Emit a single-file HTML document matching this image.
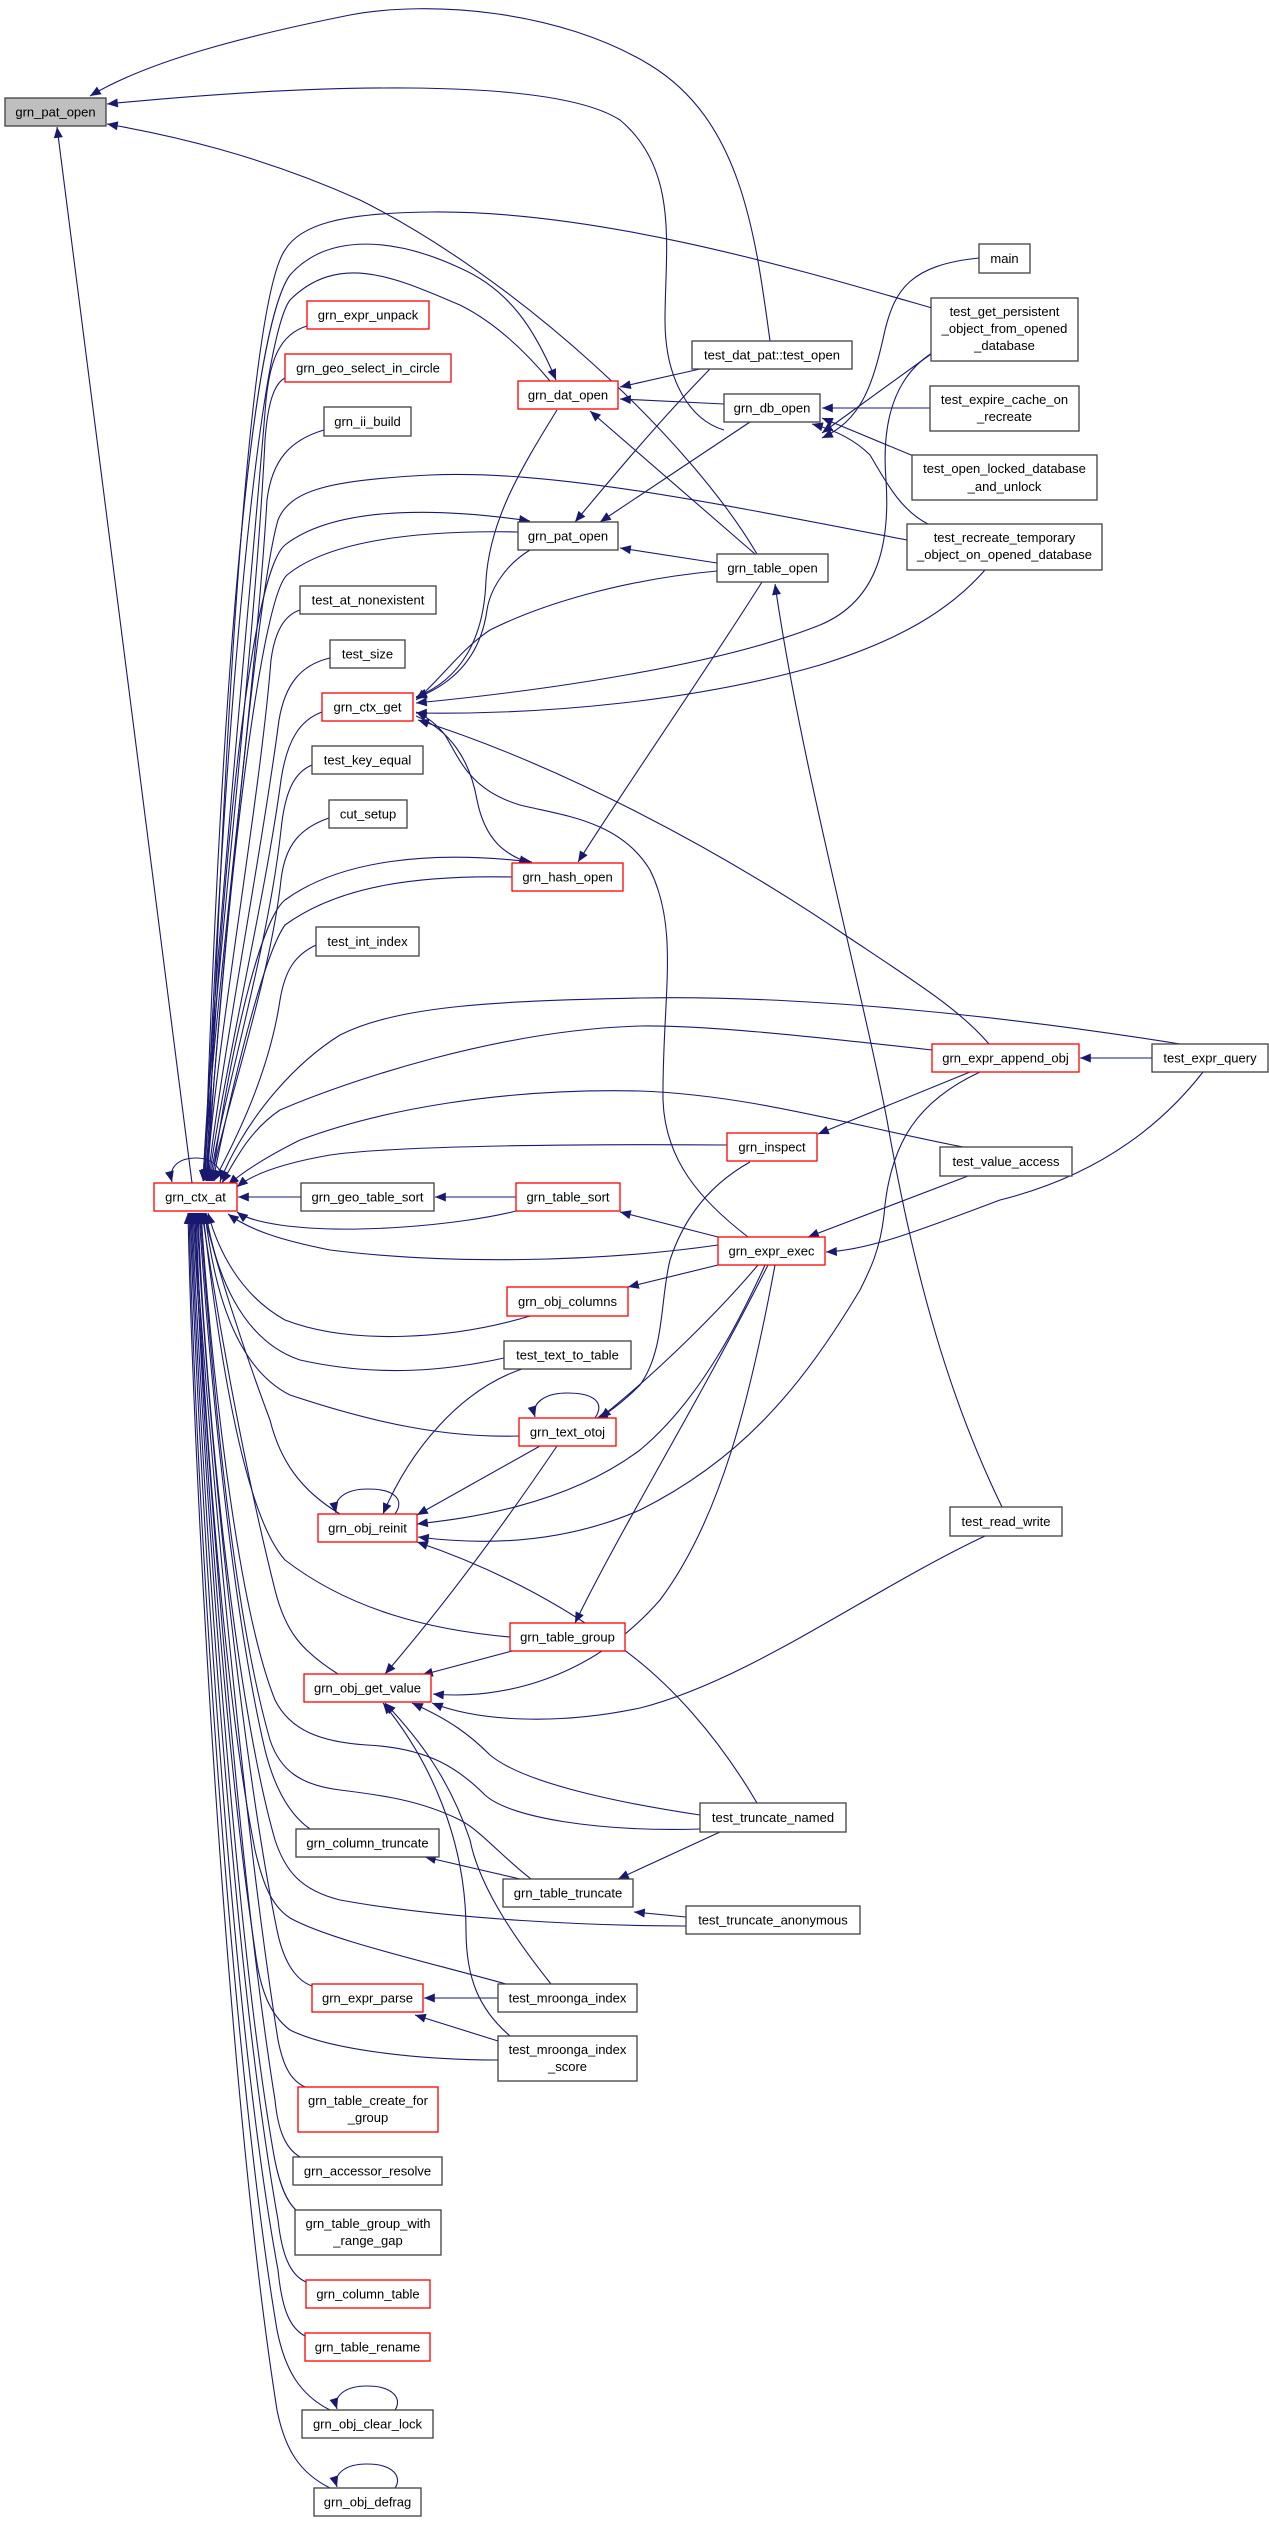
<!DOCTYPE html>
<html><head><meta charset="utf-8"><style>
html,body{margin:0;padding:0;background:#fff;}
svg{display:block;}
text{font-family:"Liberation Sans",Arial,sans-serif;font-size:13px;fill:#000;text-anchor:middle;}
.n{fill:#fff;stroke:#404040;stroke-width:1.3;}
.r{fill:#fff;stroke:#ff0000;stroke-width:1.3;}
.e{fill:none;stroke:#191970;stroke-width:1.1;}
</style></head><body>
<svg width="1269" height="2522" viewBox="0 0 1269 2522" xmlns="http://www.w3.org/2000/svg">
<defs><marker id="a" viewBox="0 0 12 10" refX="12" refY="5" markerWidth="12" markerHeight="9" markerUnits="userSpaceOnUse" orient="auto"><path d="M0,0L12,5L0,10z" fill="#191970"/></marker></defs>
<g class="e" marker-end="url(#a)">
<!-- into root -->
<path d="M770,341 C755,230 740,120 650,65 C560,10 430,0 350,15 C250,35 150,60 90,96"/>
<path d="M724,430 C690,420 665,380 665,320 C665,250 680,170 620,120 C550,75 300,85 107,104"/>
<path d="M757,554 C690,440 520,280 360,200 C260,155 170,135 107,124"/>
<path d="M192,1183 L57,127"/>
<!-- db_open -->
<path d="M979,258 C910,265 895,290 885,330 C872,390 860,420 822,438"/>
<path d="M931,354 L822,433"/>
<path d="M930,408 L822,408"/>
<path d="M928,462 L822,418"/>
<path d="M928,524 C900,510 885,480 870,455 C855,440 835,430 812,424"/>
<!-- dat_open -->
<path d="M700,369 L620,387"/>
<path d="M724,404 L620,399"/>
<path d="M755,554 L590,411"/>
<path d="M205,1180 C220,700 250,330 290,275 C330,230 400,240 460,268 C510,290 535,330 556,380"/>
<path d="M550,381 C520,345 490,320 460,305 C400,280 340,250 290,300 C260,340 225,700 205,1180"/>
<!-- pat_open black -->
<path d="M710,369 C660,420 610,480 575,522"/>
<path d="M750,422 L600,522"/>
<path d="M717,563 L620,548"/>
<path d="M206,1181 C225,800 255,570 285,545 C330,510 420,505 530,521"/>
<path d="M518,532 C420,530 330,540 287,575 C260,600 225,900 207,1181"/>
<!-- into ctx_at top -->
<path d="M932,308 C800,270 600,210 430,212 C340,213 300,225 285,250 C250,300 225,700 208,1180"/>
<path d="M307,326 C280,334 270,360 266,400 C250,600 215,950 203,1181"/>
<path d="M285,378 C275,383 268,400 265,440 C255,650 212,1000 203,1181"/>
<path d="M324,430 C290,440 272,460 267,500 C255,700 214,1000 204,1181"/>
<path d="M907,540 C700,500 550,470 430,475 C330,480 290,490 278,520 C255,600 220,1000 206,1181"/>
<path d="M300,610 C285,615 275,630 271,660 C260,800 215,1050 207,1181"/>
<path d="M330,658 C300,665 285,685 279,720 C262,850 218,1080 208,1181"/>
<path d="M322,712 C300,720 287,740 281,780 C265,900 220,1090 209,1181"/>
<path d="M312,765 C295,772 285,790 281,830 C268,950 222,1100 210,1181"/>
<path d="M329,818 C300,828 285,845 281,880 C270,980 225,1110 211,1181"/>
<path d="M212,1181 C230,1050 260,920 285,900 C340,860 430,850 532,862"/>
<path d="M512,877 C420,875 340,885 285,925 C260,960 225,1120 213,1181"/>
<path d="M316,945 C295,955 285,970 280,1000 C268,1080 230,1150 214,1181"/>
<path d="M1180,1044 C1000,1015 800,995 640,998 C500,1001 400,1005 340,1035 C300,1060 250,1110 220,1181"/>
<path d="M932,1050 C800,1035 700,1025 640,1026 C500,1030 350,1080 280,1110 C250,1130 235,1160 222,1183"/>
<path d="M963,1147 C850,1125 750,1095 640,1091 C500,1088 380,1110 300,1140 C270,1155 245,1170 228,1185"/>
<path d="M727,1145 C600,1144 400,1145 330,1155 C290,1162 255,1172 237,1187"/>
<path d="M220,1183 C224,1168 212,1158 196,1158 C180,1158 168,1166 172,1182"/>
<path d="M301,1197 L238,1197"/>
<path d="M516,1197 L435,1197"/>
<path d="M516,1211 C460,1225 350,1235 280,1225 C260,1222 245,1218 237,1212"/>
<path d="M718,1245 C600,1262 450,1265 330,1250 C280,1240 250,1230 228,1214"/>
<!-- into ctx_at bottom -->
<path d="M530,1316 C450,1340 350,1345 285,1320 C240,1295 218,1250 208,1213"/>
<path d="M504,1358 C450,1370 380,1378 300,1360 C240,1340 215,1270 206,1213"/>
<path d="M519,1436 C450,1438 380,1425 290,1395 C240,1370 215,1300 205,1213"/>
<path d="M340,1514 C300,1490 280,1460 270,1420 C240,1340 215,1260 204,1213"/>
<path d="M510,1637 C430,1630 350,1610 285,1560 C240,1510 215,1320 203,1213"/>
<path d="M338,1674 C300,1650 285,1630 275,1590 C240,1450 215,1300 202,1213"/>
<path d="M700,1829 C600,1832 510,1818 485,1795 C460,1770 430,1748 367,1745 C320,1742 290,1730 275,1700 C235,1600 210,1350 201,1213"/>
<path d="M531,1879 C500,1855 480,1830 460,1820 C420,1800 380,1795 340,1790 C300,1785 280,1770 270,1740 C230,1600 210,1350 200,1213"/>
<path d="M310,1829 C290,1815 275,1790 265,1750 C230,1600 208,1350 199,1213"/>
<path d="M686,1926 C600,1926 450,1920 340,1900 C300,1890 285,1870 275,1840 C235,1700 205,1400 198,1213"/>
<path d="M312,1986 C295,1980 283,1960 277,1930 C240,1750 205,1400 197,1213"/>
<path d="M506,1984 C420,1960 330,1940 290,1918 C270,1905 262,1880 255,1850 C225,1700 202,1400 196,1213"/>
<path d="M498,2060 C420,2060 330,2050 290,2030 C270,2015 260,1990 255,1950 C225,1750 200,1400 195,1213"/>
<path d="M305,2087 C290,2080 283,2065 278,2040 C240,1800 205,1400 194,1213"/>
<path d="M300,2157 C285,2148 278,2130 275,2100 C235,1850 203,1400 193,1213"/>
<path d="M296,2210 C285,2200 278,2180 273,2150 C230,1900 200,1400 192,1213"/>
<path d="M306,2282 C290,2275 282,2255 278,2220 C230,1950 200,1450 191,1213"/>
<path d="M305,2336 C290,2328 282,2310 278,2270 C228,2000 198,1450 190,1213"/>
<path d="M330,2410 C300,2395 285,2370 277,2330 C230,2050 196,1500 189,1213"/>
<path d="M330,2488 C300,2473 285,2450 277,2410 C228,2100 194,1500 188,1213"/>
<path d="M395,2410 C402,2400 395,2386 367,2386 C345,2386 333,2396 337,2409"/>
<path d="M395,2488 C402,2478 395,2464 367,2464 C345,2464 333,2474 337,2487"/>
<!-- ctx_get -->
<path d="M557,410 C520,470 490,520 486,580 C484,640 460,680 416,697"/>
<path d="M530,550 C505,565 490,590 487,610 C480,660 450,685 416,698"/>
<path d="M717,571 C620,580 540,605 490,630 C460,650 440,680 416,700"/>
<path d="M932,353 C890,380 882,430 886,480 C890,540 880,600 820,625 C720,665 550,690 416,703"/>
<path d="M985,570 C950,610 900,640 820,665 C700,700 550,715 416,713"/>
<path d="M989,1044 C960,1010 920,985 845,935 C720,850 560,765 418,720"/>
<path d="M748,1237 C700,1200 665,1160 663,1100 C662,1000 680,930 650,870 C620,820 560,815 520,805 C470,790 460,760 445,735 C435,722 425,716 416,712"/>
<path d="M416,716 C450,730 470,760 477,800 C485,840 505,855 530,863"/>
<path d="M762,582 C700,680 630,780 578,862"/>
<path d="M1002,1507 C950,1400 915,1280 887,1120 C860,980 800,760 775,584"/>
<!-- mid -->
<path d="M1152,1058 L1080,1058"/>
<path d="M970,1072 L818,1134"/>
<path d="M968,1176 L808,1237"/>
<path d="M1203,1072 C1150,1140 1080,1180 1000,1200 C920,1230 870,1250 826,1252"/>
<path d="M718,1237 L620,1212"/>
<path d="M718,1265 L628,1287"/>
<path d="M750,1162 C700,1190 680,1230 670,1260 C660,1300 665,1350 640,1385 C620,1405 605,1415 597,1418"/>
<path d="M758,1265 C720,1310 660,1370 600,1418"/>
<path d="M765,1265 C740,1320 700,1400 640,1450 C560,1510 450,1520 417,1524"/>
<path d="M980,1072 C920,1100 890,1140 884,1215 C880,1250 870,1270 860,1290 C800,1390 740,1460 640,1510 C560,1545 480,1545 418,1537"/>
<path d="M540,1446 L417,1515"/>
<path d="M522,1369 C460,1390 410,1450 383,1514"/>
<path d="M395,1514 C405,1500 395,1489 368,1489 C345,1489 333,1499 336,1513"/>
<path d="M595,1418 C605,1403 595,1393 567,1393 C545,1393 531,1403 535,1417"/>
<path d="M757,1803 C720,1740 670,1680 610,1640 C540,1590 470,1560 417,1542"/>
<path d="M768,1265 C700,1400 620,1530 575,1623"/>
<path d="M557,1446 C500,1530 440,1610 385,1674"/>
<path d="M512,1651 L422,1675"/>
<path d="M775,1265 C750,1400 720,1520 660,1600 C590,1680 500,1700 433,1694"/>
<path d="M985,1536 C870,1590 750,1680 640,1708 C560,1725 480,1722 432,1703"/>
<path d="M700,1815 C600,1800 520,1780 490,1755 C470,1735 450,1720 412,1703"/>
<path d="M551,1984 C520,1945 480,1890 470,1840 C450,1780 420,1740 385,1703"/>
<path d="M510,2036 C480,2010 466,1980 466,1930 C466,1840 430,1760 383,1703"/>
<path d="M520,1879 L425,1857"/>
<path d="M686,1917 L634,1912"/>
<path d="M720,1832 L618,1879"/>
<path d="M498,1998 L424,1998"/>
<path d="M498,2041 L415,2015"/>
</g>
<!-- nodes -->
<rect x="5" y="98" width="101" height="28" fill="#bfbfbf" stroke="#404040" stroke-width="1.3"/><text x="55.5" y="116.5">grn_pat_open</text>
<rect class="n" x="979" y="244" width="51" height="29"/><text x="1004.5" y="263">main</text>
<rect class="n" x="931" y="298" width="147" height="63"/><text x="1004.5" y="316">test_get_persistent</text><text x="1004.5" y="333">_object_from_opened</text><text x="1004.5" y="350">_database</text>
<rect class="n" x="692" y="341" width="160" height="28"/><text x="772" y="359.5">test_dat_pat::test_open</text>
<rect class="n" x="724" y="394" width="96" height="28"/><text x="772" y="412.5">grn_db_open</text>
<rect class="n" x="930" y="386" width="149" height="45"/><text x="1004.5" y="404">test_expire_cache_on</text><text x="1004.5" y="421">_recreate</text>
<rect class="n" x="912" y="455" width="185" height="45"/><text x="1004.5" y="473">test_open_locked_database</text><text x="1004.5" y="491">_and_unlock</text>
<rect class="n" x="907" y="524" width="195" height="46"/><text x="1004.5" y="542">test_recreate_temporary</text><text x="1004.5" y="559">_object_on_opened_database</text>
<rect class="n" x="717" y="554" width="111" height="28"/><text x="772.5" y="572.5">grn_table_open</text>
<rect class="r" x="307" y="301" width="122" height="28"/><text x="368" y="319.5">grn_expr_unpack</text>
<rect class="r" x="285" y="354" width="166" height="28"/><text x="368" y="372.5">grn_geo_select_in_circle</text>
<rect class="n" x="324" y="407" width="87" height="29"/><text x="367.5" y="426">grn_ii_build</text>
<rect class="r" x="518" y="381" width="100" height="28"/><text x="568" y="399.5">grn_dat_open</text>
<rect class="n" x="518" y="522" width="100" height="28"/><text x="568" y="540.5">grn_pat_open</text>
<rect class="n" x="300" y="586" width="136" height="28"/><text x="368" y="604.5">test_at_nonexistent</text>
<rect class="n" x="330" y="640" width="75" height="28"/><text x="367.5" y="658.5">test_size</text>
<rect class="r" x="322" y="693" width="91" height="28"/><text x="367.5" y="711.5">grn_ctx_get</text>
<rect class="n" x="312" y="746" width="111" height="28"/><text x="367.5" y="764.5">test_key_equal</text>
<rect class="n" x="329" y="800" width="78" height="28"/><text x="368" y="818.5">cut_setup</text>
<rect class="r" x="512" y="863" width="111" height="28"/><text x="567.5" y="881.5">grn_hash_open</text>
<rect class="n" x="316" y="927" width="103" height="29"/><text x="367.5" y="946">test_int_index</text>
<rect class="r" x="154" y="1183" width="83" height="28"/><text x="195.5" y="1201.5">grn_ctx_at</text>
<rect class="n" x="301" y="1183" width="133" height="28"/><text x="367.5" y="1201.5">grn_geo_table_sort</text>
<rect class="r" x="516" y="1183" width="104" height="28"/><text x="568" y="1201.5">grn_table_sort</text>
<rect class="r" x="932" y="1044" width="147" height="28"/><text x="1005.5" y="1062.5">grn_expr_append_obj</text>
<rect class="n" x="1152" y="1044" width="116" height="28"/><text x="1210" y="1062.5">test_expr_query</text>
<rect class="r" x="727" y="1133" width="90" height="28"/><text x="772" y="1151.5">grn_inspect</text>
<rect class="n" x="940" y="1147" width="132" height="29"/><text x="1006" y="1166">test_value_access</text>
<rect class="r" x="718" y="1237" width="107" height="28"/><text x="771.5" y="1255.5">grn_expr_exec</text>
<rect class="r" x="507" y="1287" width="121" height="29"/><text x="567.5" y="1306">grn_obj_columns</text>
<rect class="n" x="504" y="1341" width="127" height="28"/><text x="567.5" y="1359.5">test_text_to_table</text>
<rect class="r" x="519" y="1418" width="97" height="28"/><text x="567.5" y="1436.5">grn_text_otoj</text>
<rect class="r" x="318" y="1514" width="99" height="28"/><text x="367.5" y="1532.5">grn_obj_reinit</text>
<rect class="n" x="950" y="1507" width="112" height="29"/><text x="1006" y="1526">test_read_write</text>
<rect class="r" x="510" y="1623" width="115" height="28"/><text x="567.5" y="1641.5">grn_table_group</text>
<rect class="r" x="304" y="1674" width="127" height="28"/><text x="367.5" y="1692.5">grn_obj_get_value</text>
<rect class="n" x="700" y="1803" width="146" height="29"/><text x="773" y="1822">test_truncate_named</text>
<rect class="n" x="296" y="1829" width="143" height="28"/><text x="367.5" y="1847.5">grn_column_truncate</text>
<rect class="n" x="503" y="1879" width="130" height="28"/><text x="568" y="1897.5">grn_table_truncate</text>
<rect class="n" x="686" y="1906" width="174" height="28"/><text x="773" y="1924.5">test_truncate_anonymous</text>
<rect class="r" x="312" y="1984" width="111" height="28"/><text x="367.5" y="2002.5">grn_expr_parse</text>
<rect class="n" x="498" y="1984" width="139" height="28"/><text x="567.5" y="2002.5">test_mroonga_index</text>
<rect class="n" x="498" y="2036" width="139" height="45"/><text x="567.5" y="2054">test_mroonga_index</text><text x="567.5" y="2071">_score</text>
<rect class="r" x="298" y="2087" width="140" height="45"/><text x="368" y="2105">grn_table_create_for</text><text x="368" y="2122">_group</text>
<rect class="n" x="293" y="2157" width="149" height="28"/><text x="367.5" y="2175.5">grn_accessor_resolve</text>
<rect class="n" x="295" y="2210" width="146" height="45"/><text x="368" y="2228">grn_table_group_with</text><text x="368" y="2245">_range_gap</text>
<rect class="r" x="306" y="2280" width="124" height="28"/><text x="368" y="2298.5">grn_column_table</text>
<rect class="r" x="305" y="2333" width="125" height="28"/><text x="367.5" y="2351.5">grn_table_rename</text>
<rect class="n" x="302" y="2410" width="131" height="28"/><text x="367.5" y="2428.5">grn_obj_clear_lock</text>
<rect class="n" x="314" y="2488" width="107" height="28"/><text x="367.5" y="2506.5">grn_obj_defrag</text>
</svg>
</body></html>
